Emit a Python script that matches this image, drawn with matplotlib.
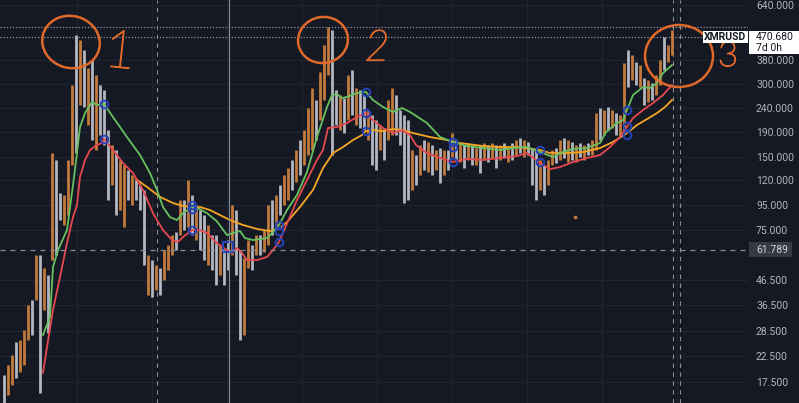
import numpy as np
import matplotlib
matplotlib.use('Agg')
import matplotlib.pyplot as plt
import matplotlib.patheffects as pe
from matplotlib.patches import Ellipse, Rectangle
from matplotlib.ticker import NullLocator, FixedLocator
from matplotlib.transforms import IdentityTransform

plt.rcParams['font.family'] = ['Roboto', 'DejaVu Sans']

# ---- weekly bars (high / low in USD, up=1 orange, up=0 grey) ----
bar_hi = [18.7, 20.6, 22.6, 25.6, 26.1, 28.7, 36.5, 38.3, 58.8, 58.8,
          51.9, 48.6, 155.7, 145.7, 106.3, 104.3, 145.7, 298, 480.6, 458,
          416.4, 350.7, 378.5, 328, 298, 284.2, 194, 168.1, 160.3, 145.7,
          138.8, 132.4, 126.2, 120.3, 114.7, 109.4, 58.8, 56, 53.4, 51.9,
          61.6, 64.7, 71.1, 73.2, 99.4, 99.4, 120.3, 104.3, 94.8, 90.3,
          86.1, 78.3, 71.1, 71.1, 64.7, 61.6, 67.8, 94.8, 90.3, 61.6,
          57.1, 67.8, 64.7, 71.1, 71.1, 74.6, 94.8, 99.4, 104.3, 114.7,
          126.2, 134.9, 145.7, 160.3, 176.3, 194, 239.4, 289.7, 258.3, 337.5,
          436.8, 518.7, 504, 284.2, 271, 263.3, 328, 344, 289.7, 284.2,
          271, 234.8, 223.8, 213.2, 203.5, 197.7, 258.3, 289.7, 271, 234.8,
          223.8, 213.2, 160.3, 152.8, 168.1, 176.3, 173, 168.1, 160.3, 163.3,
          160.3, 160.3, 188.5, 176.3, 171.4, 168.1, 171.4, 168.1, 163.3, 168.1,
          171.4, 168.1, 171.4, 168.1, 168.1, 171.4, 163.3, 171.4, 176.3, 179.7,
          176.3, 173, 163.3, 160.3, 145.7, 138.8, 145.7, 160.3, 163.3, 176.3,
          179.7, 176.3, 173, 168.1, 171.4, 168.1, 171.4, 176.3, 228.1, 239.4,
          234.8, 241.6, 234.8, 228.1, 223.8, 367, 416.4, 397, 371, 360.8,
          318.7, 312.7, 303.9, 328, 378.5, 470.3, 436.8, 504]
bar_lo = [14.0, 15.4, 17.0, 18.2, 19.3, 20.6, 26.1, 27.4, 38.3, 15.8,
          34.8, 27.9, 56, 58.8, 82.1, 78.3, 86.1, 138.8, 155.7, 246.3,
          241.6, 203.5, 176.3, 160.3, 184.9, 168.1, 99.4, 114.7, 86.1, 90.3,
          76.8, 99.4, 94.8, 99.4, 90.3, 53.4, 40.1, 39.4, 42.1, 40.1,
          46.4, 50.9, 58.8, 61.6, 71.1, 74.6, 76.8, 71.1, 67.8, 61.6,
          56, 53.4, 50.9, 44.2, 48.6, 44.2, 50.9, 58.8, 48.6, 26.1,
          27.4, 51.9, 50.9, 58.8, 58.8, 60.4, 64.7, 71.1, 78.3, 86.1,
          94.8, 99.4, 109.4, 118.1, 126.2, 138.8, 152.8, 160.3, 176.3, 213.2,
          258.3, 328, 152.8, 203.5, 194, 188.5, 213.2, 223.8, 203.5, 197.7,
          194, 176.3, 138.8, 132.4, 160.3, 145.7, 176.3, 184.9, 184.9, 168.1,
          96.6, 99.4, 109.4, 114.7, 126.2, 132.4, 129.9, 126.2, 132.4, 117,
          126.2, 132.4, 149.9, 145.7, 142.9, 134.9, 145.7, 138.8, 138.8, 128.6,
          145.7, 142.9, 148.5, 134.9, 145.7, 148.5, 142.9, 145.7, 152.8, 155.7,
          149.9, 152.8, 114.7, 99.4, 109.4, 104.3, 114.7, 138.8, 141.6, 145.7,
          148.5, 142.9, 145.7, 142.9, 149.9, 145.7, 152.8, 152.8, 160.3, 176.3,
          184.9, 194, 197.7, 184.9, 181.4, 188.5, 292.4, 312.7, 298, 292.4,
          246.3, 253.4, 258.3, 271, 298, 344, 371, 397]
bar_up = [0, 1, 1, 0, 1, 1, 1, 0, 1, 0,
          1, 0, 1, 0, 0, 1, 1, 1, 0, 1,
          0, 1, 0, 1, 0, 0, 0, 1, 0, 1,
          1, 0, 1, 0, 0, 0, 1, 0, 1, 0,
          1, 1, 1, 0, 1, 0, 1, 0, 1, 0,
          0, 1, 0, 0, 1, 0, 0, 1, 0, 0,
          1, 1, 0, 1, 0, 1, 1, 0, 1, 0,
          1, 1, 0, 1, 0, 1, 1, 1, 0, 1,
          1, 1, 0, 0, 1, 0, 1, 0, 1, 0,
          0, 1, 0, 0, 1, 0, 1, 1, 0, 0,
          0, 0, 1, 0, 1, 0, 1, 0, 1, 0,
          1, 0, 1, 0, 1, 0, 1, 0, 1, 0,
          1, 0, 1, 0, 1, 0, 1, 0, 1, 0,
          1, 0, 0, 0, 1, 0, 1, 1, 0, 1,
          0, 1, 0, 1, 0, 1, 0, 1, 1, 0,
          1, 0, 1, 0, 1, 1, 0, 1, 0, 1,
          0, 1, 0, 1, 1, 0, 1, 1]

# ---- indicator lines (week index, price) ----
green_x = [9.75, 11.5, 12.25, 13.5, 15.75, 17.25, 18.25, 19, 20.25, 22,
           23.25, 25, 27.25, 30.75, 34, 36.5, 38.25, 39.75, 41.5, 43.25,
           44.75, 47, 49, 50.75, 53.25, 55.75, 57.25, 59, 60.25, 62.25,
           65.75, 67.25, 68.75, 70.75, 73.25, 75.75, 78.25, 80.75, 82, 83.25,
           84.5, 85.75, 88.25, 90.5, 92.25, 94.75, 97.25, 99.5, 101.5, 105.75,
           109, 112.25, 115.75, 119.75, 124, 127.25, 130.75, 134, 137.25, 139,
           142.25, 145.75, 149, 150.5, 153.25, 154.75, 155.75, 157.25, 159.75, 161.5,
           163.25, 164.75, 167]
green_y = [27.4, 32.5, 52.4, 61.6, 74.6, 114.7, 155.7, 199.6, 228.1, 253.4,
           246.3, 248.6, 219.6, 181.4, 152.8, 128.6, 109.4, 93, 84.4, 82.1,
           87.7, 93, 91, 87.7, 81, 71.1, 72.5, 73.9, 69.1, 67.8,
           69.1, 73.2, 78.3, 90.3, 104.3, 129.9, 181.4, 241.6, 271, 273.5,
           263.3, 266, 276, 279, 258.3, 241.6, 230.5, 239.4, 230.5, 207.4,
           181.4, 173, 166.5, 163.3, 160.3, 163.3, 164.9, 157.2, 149.9, 155.7,
           161.8, 163.3, 171.4, 190, 207.4, 213.2, 234.8, 271, 292.4, 289.7,
           303.9, 334, 360.8]

red_x = [9.75, 10.75, 12.25, 14, 15.75, 17.25, 18.25, 19, 20.25, 21.5,
         23.25, 24.5, 25, 27.25, 29.75, 32.25, 34.75, 37.25, 39.75, 42,
         43.5, 44.75, 47, 49, 50.75, 53.25, 55.75, 57, 58.25, 59.5,
         60.75, 63.25, 65.75, 67.25, 68.75, 70.75, 73.25, 75.75, 78.25, 79.75,
         81, 83.25, 85.75, 88.25, 90.5, 92.25, 94.75, 97.25, 99.5, 101.5,
         103, 105.75, 109, 112.25, 115.75, 119.75, 124, 128.25, 130.75, 134,
         136.5, 139, 142.25, 145.75, 149, 151.5, 154, 155.75, 157.25, 159.75,
         162.25, 164.75, 167]
red_y = [19.1, 24.4, 34.8, 47.6, 66, 84.4, 94.8, 123.9, 145.7, 160.3,
         168.1, 171.4, 178, 160.3, 141.6, 128.6, 109.4, 87.7, 74.6, 67.8,
         66.6, 69.8, 74.6, 74.6, 72.5, 65.8, 61.6, 59.9, 62.9, 59.9,
         56, 56, 57.7, 61.6, 66.6, 79.3, 99.4, 120.3, 145.7, 160.3,
         197.7, 199.6, 207.4, 219.6, 228.1, 213.2, 197.7, 188.5, 194, 184.9,
         168.1, 155.7, 148.5, 142.9, 147.2, 145.7, 148.5, 151.3, 155.7, 141.6,
         133.5, 136.2, 142.9, 148.5, 152.8, 164.9, 181.4, 199.6, 217.4, 234.8,
         250.9, 271, 298]

orange_x = [33, 35.75, 39, 42.25, 44.75, 47, 49, 51.5, 54, 56.5,
            59.75, 63.25, 66.5, 68.75, 70.75, 74, 77.25, 79.75, 82.25, 84.75,
            87.25, 89.5, 90.5, 92.25, 94.75, 97.25, 99.75, 102.25, 106.5, 110.75,
            112.25, 115.75, 119.75, 124, 128.25, 132.25, 134, 136.5, 140.75, 144.75,
            149, 152.25, 155.75, 158.25, 160.75, 163.25, 165.25, 167]
orange_y = [121.2, 112.6, 102.4, 96.6, 93.9, 93, 93, 90.3, 86.1, 82.1,
            78.3, 75.4, 73.9, 75.4, 80.5, 93, 109.4, 134.9, 155.7, 164.9,
            176.3, 184.9, 192, 194, 192, 195.8, 194, 188.5, 181.4, 176.3,
            173, 169.8, 166.5, 164.9, 164.9, 161.8, 160.3, 155.7, 155.7, 157.2,
            163.3, 173, 188.5, 203.5, 215.3, 228.1, 241.6, 258.3]

# crossing markers
mark_x = [25, 25, 47, 47, 47, 68.75, 68.75, 68.75, 90.5, 90.5, 90.5,
          112.25, 112.25, 112.25, 134, 134, 155.75, 155.75, 155.75]
mark_y = [248.6, 178, 94.8, 91, 74.6, 78.3, 73.9, 66.6, 279, 228.1, 192,
          173, 164.9, 142.9, 160.3, 142.9, 234.8, 201.5, 184.9]

y_ticks = [17.5, 22.5, 28.5, 36.5, 46.5, 75, 95, 120, 150, 190, 240, 300, 380, 640]
last_price = 470.68
prev_high = 521.0
cross_price = 61.789
cross_week = 56.25
week_grid = [18.25, 37, 55.75, 74.5, 93.25, 112, 130.75, 149.5, 168.25]

W, H = 799, 403
BG = '#151924'
GRID = '#21252f'
UP = '#c27a3c'
DOWN = '#b4b7be'

fig = plt.figure(figsize=(W / 100, H / 100), dpi=100, facecolor=BG)
ax = fig.add_axes([0, 0, 748 / W, 1])
ax.set_facecolor(BG)
ax.set_yscale('log')
ax.set_xlim(-1, 186)
ax.set_ylim(14.3, 671.6)

ax.yaxis.tick_right()
ax.yaxis.set_major_locator(FixedLocator(y_ticks))
ax.yaxis.set_minor_locator(NullLocator())
ax.set_yticklabels([f'{v:.3f}' for v in y_ticks])
ax.set_xticks(week_grid)
ax.set_xticklabels([])
ax.tick_params(axis='both', length=0, colors='#b2b5be', labelsize=7.5)
ax.tick_params(axis='y', pad=5.8)
ax.grid(True, color=GRID, linewidth=0.8)
ax.set_axisbelow(True)
for s in ax.spines.values():
    s.set_visible(False)

# bars
xs = np.arange(len(bar_hi))
cols = [UP if u else DOWN for u in bar_up]
ax.vlines(xs, bar_lo, bar_hi, colors=cols, linewidth=2.0, zorder=2)

# indicator lines
ax.plot(orange_x, orange_y, color='#f5a623', linewidth=1.3, zorder=3)
ax.plot(red_x, red_y, color='#e8484f', linewidth=1.3, zorder=3)
ax.plot(green_x, green_y, color='#67c15e', linewidth=1.3, zorder=3)
ax.plot(mark_x, mark_y, linestyle='none', marker='o', markersize=5.5,
        markerfacecolor='none', markeredgecolor='#2643b8', markeredgewidth=1.4, zorder=4)
ax.plot([56], [63.5], linestyle='none', marker='s', markersize=7,
        markerfacecolor='none', markeredgecolor='#2643b8', markeredgewidth=1.6, zorder=4)
ax.plot([142.75], [84.4], linestyle='none', marker='s', markersize=1.5, color=UP, zorder=4)

# price lines and crosshair
ax.axhline(prev_high, color='#9598a1', linewidth=0.9, linestyle=(0, (1, 1.5)), zorder=1)
ax.axhline(last_price, color='#9598a1', linewidth=0.9, linestyle=(0, (1, 1.5)), zorder=1)
ax.axhline(cross_price, color='#8a8d96', linewidth=0.9, linestyle=(0, (4, 4)), zorder=5)
ax.axvline(cross_week, color='#8a8d96', linewidth=0.8, zorder=5)
ax.axvline(38.25, color='#8a8d96', linewidth=0.8, linestyle=(0, (4, 4)), zorder=1)
ax.axvline(167.25, color='#8a8d96', linewidth=0.8, linestyle=(0, (4, 4)), zorder=1)
ax.axvline(169, color='#8a8d96', linewidth=0.8, linestyle=(0, (4, 4)), zorder=1)

# hand drawn marks (pixel coordinates)
def pix(x, y):
    return (x, H - y)

ORG = '#e0692a'
for (cx, cy, w, h, ang) in [(71, 42, 58, 52, -15), (323, 40, 50, 46, 10), (679, 56, 68, 62, 0)]:
    e = Ellipse(pix(cx, cy), w, h, angle=ang, fill=False, edgecolor=ORG,
                linewidth=1.8, transform=IdentityTransform(), zorder=6)
    fig.add_artist(e)
thick = [pe.withStroke(linewidth=0.9, foreground=ORG)]
fig.text(120 / W, 1 - 53 / H, '1', color=ORG, fontsize=38, ha='center', va='center',
         rotation=-6, family=['Lato', 'DejaVu Sans'], fontweight='light', path_effects=thick)
fig.text(377 / W, 1 - 49 / H, '2', color=ORG, fontsize=31, ha='center', va='center',
         family=['Lato', 'DejaVu Sans'], fontweight='light', style='italic', path_effects=thick)
fig.text(728 / W, 1 - 56 / H, '3', color=ORG, fontsize=25, ha='center', va='center',
         family=['Lato', 'DejaVu Sans'], fontweight='light', path_effects=thick)

# price axis labels
def box(x0, y0, x1, y1, color):
    r = Rectangle((x0, H - y1), x1 - x0, y1 - y0, facecolor=color, edgecolor='none',
                  transform=IdentityTransform(), zorder=7)
    fig.add_artist(r)

box(703, 31, 748, 43, 'white')
box(749, 31, 799, 54, 'white')
box(749, 242, 792, 257, '#363a45')
fig.text(725.5 / W, 1 - 37 / H, 'XMRUSD', color='#131722', fontsize=7.5, fontweight='bold',
         ha='center', va='center', zorder=8)
fig.text(756 / W, 1 - 37 / H, f'{last_price:.3f}', color='#131722', fontsize=7.5,
         ha='left', va='center', zorder=8)
fig.text(756 / W, 1 - 48 / H, '7d 0h', color='#131722', fontsize=7.5,
         ha='left', va='center', zorder=8)
fig.text(756 / W, 1 - 250 / H, f'{cross_price:.3f}', color='#d1d4dc', fontsize=7.5,
         ha='left', va='center', zorder=8)

fig.savefig('out.png', dpi=100, facecolor=BG)
